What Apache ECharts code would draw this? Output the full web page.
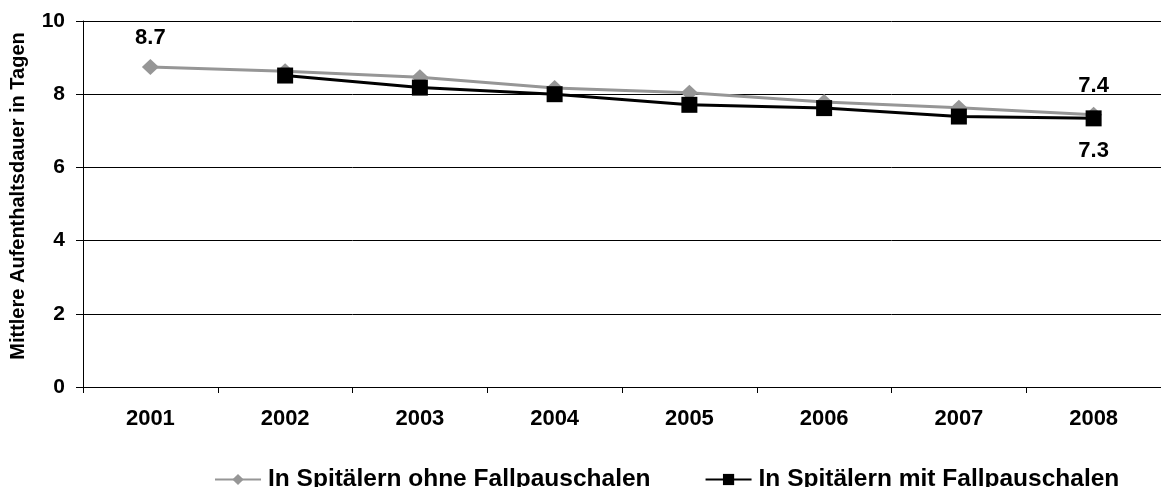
<!DOCTYPE html>
<html><head><meta charset="utf-8">
<script src="https://cdn.jsdelivr.net/npm/echarts@6/dist/echarts.min.js"></script>
<style>html,body{margin:0;padding:0;background:#fff;overflow:hidden}#c{width:1161px;height:487px}</style>
</head><body><div id="c"></div>
<script>
const categories = ['2001','2002','2003','2004','2005','2006','2007','2008'];
const ohneValues = [8.74, 8.63, 8.46, 8.17, 8.04, 7.79, 7.63, 7.44];
const mitValues  = [null, 8.51, 8.18, 8.0, 7.71, 7.62, 7.39, 7.34];
const yTicks = [0, 2, 4, 6, 8, 10];
const ohneLabelIdx = [0, 7];
const mitLabelIdx = [7];
const FONT = 'Liberation Sans, Arial, sans-serif';

const chart = echarts.init(document.getElementById('c'));
function mk(vals, idxs, pos) {
  return vals.map((v, i) => idxs.indexOf(i) >= 0 ? {value: v, label: {show: true, position: pos}} : v);
}
chart.setOption({
  animation: false,
  textStyle: {fontFamily: FONT},
  grid: {left: 83, top: 21, width: 1091, height: 366, containLabel: false},
  legend: {
    left: 209, top: 462, itemWidth: 46, itemHeight: 14, itemGap: 54,
    textStyle: {fontFamily: FONT, fontWeight: 'bold', fontSize: 24.5, color: '#000', padding: [0, 0, 0, 2]},
    data: [
      {name: 'In Spitälern ohne Fallpauschalen'},
      {name: 'In Spitälern mit Fallpauschalen'}
    ]
  },
  xAxis: {
    type: 'category', data: categories, boundaryGap: true,
    axisLine: {lineStyle: {color: '#000', width: 1}},
    axisTick: {show: true, length: 6, lineStyle: {color: '#000'}},
    axisLabel: {fontFamily: FONT, fontWeight: 'bold', fontSize: 22, color: '#000', margin: 21}
  },
  yAxis: {
    type: 'value', min: yTicks[0], max: yTicks[yTicks.length-1], interval: 2,
    name: 'Mittlere Aufenthaltsdauer in Tagen', nameLocation: 'middle', nameGap: 55,
    nameTextStyle: {fontFamily: FONT, fontWeight: 'bold', fontSize: 20, color: '#000', padding: [0, 0, 0, 16]},
    axisLine: {show: true, lineStyle: {color: '#000'}},
    axisTick: {show: true, length: 7, lineStyle: {color: '#000'}},
    splitLine: {lineStyle: {color: '#000', width: 1}},
    axisLabel: {fontFamily: FONT, fontWeight: 'bold', fontSize: 21, color: '#000', margin: 18}
  },
  series: [
    {
      name: 'In Spitälern ohne Fallpauschalen', type: 'line',
      data: mk(ohneValues, ohneLabelIdx, 'top'),
      symbol: 'diamond', symbolSize: [17, 16],
      lineStyle: {color: '#969696', width: 3},
      itemStyle: {color: '#969696'},
      label: {show: false, fontFamily: FONT, fontWeight: 'bold', fontSize: 22, color: '#000', distance: 10,
        formatter: p => p.value.toFixed(1)},
      z: 2
    },
    {
      name: 'In Spitälern mit Fallpauschalen', type: 'line',
      data: mk(mitValues, mitLabelIdx, 'bottom'),
      symbol: 'rect', symbolSize: 16,
      lineStyle: {color: '#000', width: 3},
      itemStyle: {color: '#000'},
      label: {show: false, fontFamily: FONT, fontWeight: 'bold', fontSize: 22, color: '#000', distance: 14,
        formatter: p => p.value.toFixed(1)},
      z: 3
    }
  ]
});
</script></body></html>
